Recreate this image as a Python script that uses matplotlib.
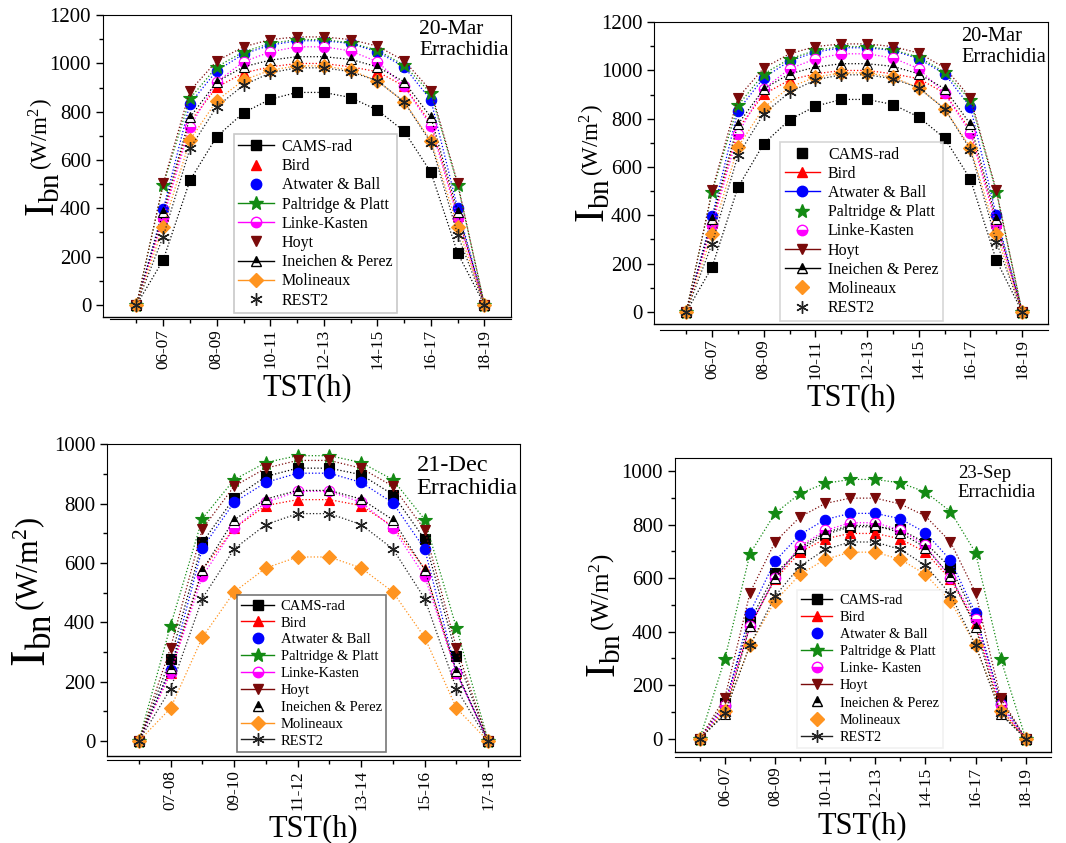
import numpy as np
import matplotlib
matplotlib.use("Agg")
import matplotlib.pyplot as plt
from matplotlib.lines import Line2D

plt.rcParams["font.family"] = ["Liberation Serif", "DejaVu Serif"]
plt.rcParams["mathtext.fontset"] = "stix"

# hour slots
hours_day = ["05-06", "06-07", "07-08", "08-09", "09-10", "10-11", "11-12",
             "12-13", "13-14", "14-15", "15-16", "16-17", "17-18", "18-19"]
hours_dec = ["06-07", "07-08", "08-09", "09-10", "10-11", "11-12",
             "12-13", "13-14", "14-15", "15-16", "16-17", "17-18"]

# 20-Mar, Errachidia (W/m2)
mar_cams = [0, 186, 516, 697, 796, 852, 880, 880, 859, 807, 719, 549, 214, 0]
mar_bird = [0, 370, 759, 901, 961, 986, 1000, 1000, 986, 966, 906, 752, 370, 0]
mar_atwater = [0, 396, 834, 970, 1039, 1076, 1094, 1094, 1083, 1048, 986, 848, 400, 0]
mar_paltridge = [0, 497, 855, 986, 1048, 1083, 1099, 1099, 1085, 1055, 993, 876, 497, 0]
mar_linke = [0, 359, 738, 924, 1007, 1048, 1069, 1069, 1052, 1007, 906, 741, 359, 0]
mar_hoyt = [0, 503, 887, 1010, 1069, 1099, 1110, 1110, 1099, 1072, 1011, 887, 503, 0]
mar_ineichen = [0, 385, 777, 924, 986, 1014, 1028, 1028, 1017, 986, 924, 777, 385, 0]
mar_molineaux = [0, 324, 683, 846, 931, 972, 990, 990, 972, 928, 841, 680, 324, 0]
mar_rest2 = [0, 283, 648, 821, 910, 961, 982, 982, 966, 928, 841, 672, 290, 0]

# 21-Dec, Errachidia
dec_cams = [0, 277, 669, 818, 891, 919, 919, 897, 830, 680, 288, 0]
dec_bird = [0, 230, 577, 717, 793, 813, 813, 793, 723, 580, 230, 0]
dec_atwater = [0, 241, 650, 804, 871, 902, 902, 871, 802, 647, 230, 0]
dec_paltridge = [0, 389, 749, 880, 938, 961, 961, 938, 880, 746, 381, 0]
dec_linke = [0, 230, 555, 717, 804, 841, 841, 804, 717, 555, 230, 0]
dec_hoyt = [0, 314, 714, 858, 919, 945, 945, 919, 858, 712, 314, 0]
dec_ineichen = [0, 247, 575, 745, 815, 844, 844, 815, 745, 577, 235, 0]
dec_molineaux = [0, 111, 349, 502, 583, 620, 620, 583, 502, 349, 111, 0]
dec_rest2 = [0, 176, 480, 647, 729, 766, 766, 729, 647, 480, 176, 0]

# 23-Sep, Errachidia
sep_cams = [0, 134, 440, 618, 705, 763, 792, 792, 782, 732, 639, 456, 144, 0]
sep_bird = [0, 110, 421, 595, 697, 747, 767, 767, 747, 697, 595, 431, 110, 0]
sep_atwater = [0, 120, 471, 664, 763, 819, 842, 842, 822, 770, 667, 468, 130, 0]
sep_paltridge = [0, 299, 691, 842, 917, 954, 969, 969, 956, 922, 849, 695, 299, 0]
sep_linke = [0, 125, 420, 601, 720, 778, 807, 807, 780, 722, 601, 446, 125, 0]
sep_hoyt = [0, 153, 545, 735, 829, 879, 899, 899, 877, 832, 735, 545, 153, 0]
sep_ineichen = [0, 91, 421, 600, 714, 770, 797, 797, 770, 714, 608, 418, 91, 0]
sep_molineaux = [0, 103, 349, 514, 614, 670, 697, 697, 670, 614, 514, 349, 103, 0]
sep_rest2 = [0, 95, 349, 533, 645, 707, 735, 735, 707, 648, 539, 349, 95, 0]

names = ["CAMS-rad", "Bird", "Atwater & Ball", "Paltridge & Platt", "Linke-Kasten",
         "Hoyt", "Ineichen & Perez", "Molineaux", "REST2"]

# marker, color, fillstyle
styles = [
    dict(marker="s", color="black"),
    dict(marker="^", color="#ff0000"),
    dict(marker="o", color="#0000ff"),
    dict(marker="*", color="#138a13", markersize=10),
    dict(marker="o", color="#ff00ff", fillstyle="bottom", markerfacecoloralt="white"),
    dict(marker="v", color="#7a0a0a"),
    dict(marker="^", color="black", fillstyle="top", markerfacecoloralt="white"),
    dict(marker="D", color="#ff9420", markersize=7),
    dict(marker=(6, 2, 0), color="#222222", markersize=9),
]


def draw_panel(rect, cats, series, ylim, ymajor, title, leg_lines, leg_pos,
               txt_pos, names_, txt_size=15, ylab_pos=(-0.15, 0.33),
               ylab_sizes=(30, 16.6), left_gap=0.0, leg_fs=11.5, leg_sp=0.2,
               leg_edge="#bbbbbb", spine_out=3):
    ax = fig.add_axes(rect)
    x = np.arange(len(cats))
    for vals, st in zip(series, styles):
        ms = st.get("markersize", 7.5)
        kw = {k: v for k, v in st.items() if k not in ("color", "markersize")}
        ax.plot(x, vals, linestyle=":", linewidth=0.9, color=st["color"],
                markersize=ms, markeredgewidth=0.8 if st["marker"] != (6, 2, 0) else 1.0,
                **kw)
    ax.set_xlim(-1 - left_gap, len(cats))
    ax.set_ylim(*ylim)
    ax.tick_params(which="major", direction="out", length=5, width=1)
    ax.tick_params(which="minor", direction="out", length=3, width=1)
    ax.set_xticks(x[1::2])
    ax.set_xticklabels(cats[1::2])
    ax.set_xticks(x[0::2], minor=True)
    ax.tick_params(axis="x", which="major", labelrotation=90, labelsize=12.3, pad=2)
    ax.set_yticks(np.arange(0, ylim[1] + 1, ymajor))
    ax.set_yticks(np.arange(0, ylim[1] + 1, ymajor / 2), minor=True)
    ax.tick_params(axis="y", labelsize=15)
    ax.spines["bottom"].set_position(("outward", spine_out))
    ax.spines["bottom"].set_bounds(-1, len(cats))
    ax.plot([0, 1], [0, 0], transform=ax.transAxes, color="black", lw=1, clip_on=False)

    # y label: big I_bn followed by the unit
    t1 = ax.text(ylab_pos[0], ylab_pos[1], r"$\mathregular{I_{bn}}$", rotation=90,
                 fontsize=ylab_sizes[0], transform=ax.transAxes, ha="center", va="bottom")
    ax.annotate(r"(W/m$^\mathregular{2}$)", xy=(0.5, 1), xycoords=t1, xytext=(-2, 2),
                textcoords="offset points", rotation=90, fontsize=ylab_sizes[1],
                ha="center", va="bottom")

    ax.set_xlabel("TST(h)", fontsize=22, labelpad=3)
    ax.text(txt_pos[0], txt_pos[1], title, transform=ax.transAxes, fontsize=txt_size,
            ha="left", va="top", linespacing=1.15)

    handles = []
    for st, show_line, nm in zip(styles, leg_lines, names_):
        ms = st.get("markersize", 7.5)
        kw = {k: v for k, v in st.items() if k not in ("color", "markersize")}
        handles.append(Line2D([], [], linestyle="-" if show_line else "none",
                              linewidth=1, color=st["color"], markersize=ms,
                              markeredgewidth=1.0, label=nm, **kw))
    leg = ax.legend(handles=handles, loc="lower left", bbox_to_anchor=leg_pos,
                    fontsize=leg_fs, frameon=True, fancybox=False, edgecolor=leg_edge,
                    labelspacing=leg_sp, handlelength=2.2, handletextpad=0.5,
                    borderpad=0.3, borderaxespad=0)
    leg.get_frame().set_linewidth(1.2)
    return ax


fig = plt.figure(figsize=(10.66, 8.43), dpi=100)

mar = [mar_cams, mar_bird, mar_atwater, mar_paltridge, mar_linke, mar_hoyt,
       mar_ineichen, mar_molineaux, mar_rest2]
dec = [dec_cams, dec_bird, dec_atwater, dec_paltridge, dec_linke, dec_hoyt,
       dec_ineichen, dec_molineaux, dec_rest2]
sep = [sep_cams, sep_bird, sep_atwater, sep_paltridge, sep_linke, sep_hoyt,
       sep_ineichen, sep_molineaux, sep_rest2]
names_sep = names[:4] + ["Linke- Kasten"] + names[5:]

draw_panel([0.0966, 0.624, 0.383, 0.358], hours_day, mar, (-50, 1200), 200,
           "20-Mar\nErrachidia",
           [1, 0, 0, 1, 1, 0, 1, 1, 0], (0.32, 0.012), (0.775, 0.985), names,
           txt_size=15.5, ylab_pos=(-0.145, 0.33), left_gap=0.25,
           leg_fs=11.5, leg_sp=0.2, spine_out=1.5)
draw_panel([0.6135, 0.6157, 0.3696, 0.358], hours_day, mar, (-50, 1200), 200,
           "20-Mar\nErrachidia",
           [0, 1, 1, 0, 0, 1, 1, 0, 0], (0.32, 0.01), (0.78, 0.985), names,
           txt_size=14.7, ylab_pos=(-0.152, 0.334), left_gap=0.25,
           leg_fs=11.5, leg_sp=0.2, leg_edge="#cccccc", spine_out=4)
draw_panel([0.1004, 0.1032, 0.3874, 0.370], hours_dec, dec, (-50, 1000), 200,
           "21-Dec\nErrachidia",
           [1, 1, 0, 1, 1, 1, 0, 1, 1], (0.315, 0.013), (0.75, 0.965), names,
           txt_size=17.5, ylab_pos=(-0.18, 0.285), ylab_sizes=(36, 22),
           leg_fs=10.5, leg_sp=0.25, leg_edge="#555555", spine_out=3)
draw_panel([0.633, 0.108, 0.3527, 0.349], hours_day, sep, (-50, 1050), 200,
           "23-Sep\nErrachidia",
           [1, 1, 0, 1, 0, 1, 0, 0, 1], (0.324, 0.014), (0.753, 0.976), names_sep,
           txt_size=13.5, ylab_pos=(-0.185, 0.25), ylab_sizes=(30, 18),
           leg_fs=10.3, leg_sp=0.28, leg_edge="#eeeeee", spine_out=3.5)

fig.savefig("out.png", dpi=100)
